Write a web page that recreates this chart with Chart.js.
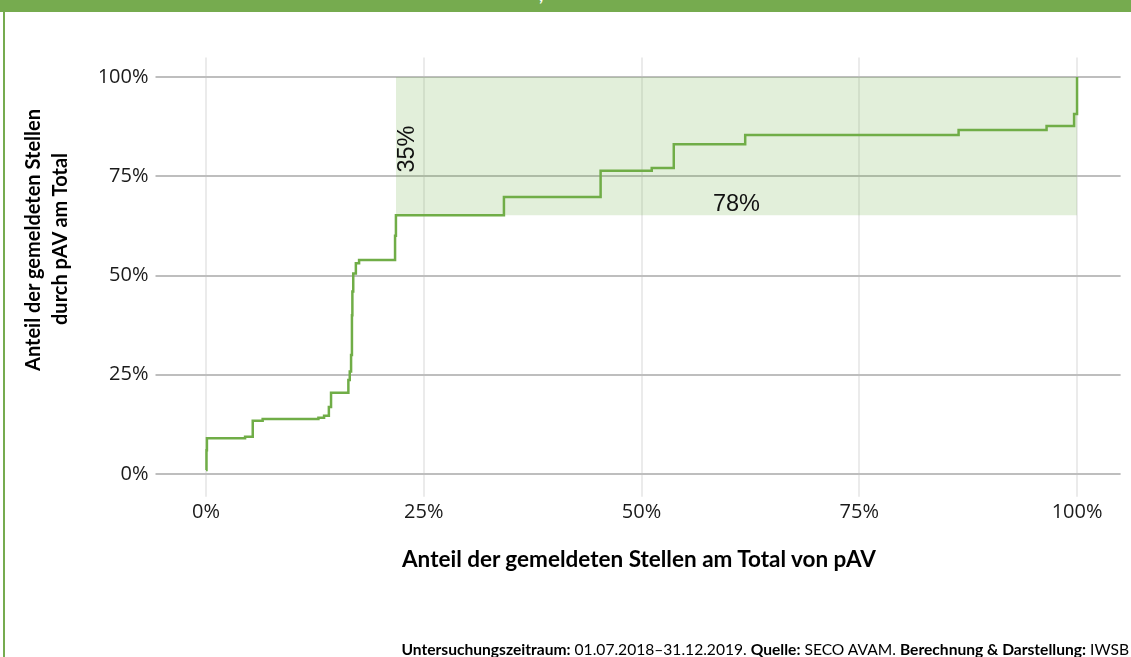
<!DOCTYPE html>
<html>
<head>
<meta charset="utf-8">
<title>Anteil der gemeldeten Stellen durch pAV</title>
<script src="https://cdn.jsdelivr.net/npm/chart.js"></script>
<style>
  body { margin: 0; width: 1131px; height: 657px; overflow: hidden; background: #fff; position: relative; font-family: Lato, sans-serif; }
  #balken { position: absolute; left: 0; top: 0; width: 1131px; height: 12px; background: #76ab4f; overflow: hidden; }
  #balken span { position: absolute; left: 539px; top: -15px; font-size: 18px; line-height: 18px; color: #fff; font-weight: bold; }
  #rand { position: absolute; left: 3px; top: 0; width: 2px; height: 657px; background: #76ab4f; }
  #wrap { position: absolute; left: 0; top: 0; width: 1131px; height: 657px; }
  .titel { position: absolute; font-weight: bold; font-size: 20px; color: #000; white-space: nowrap; transform: translate(-50%, -50%); }
  .titel.rot { transform: translate(-50%, -50%) rotate(-90deg); }
  #fuss { position: absolute; right: 2px; top: 640px; font-size: 15.6px; color: #000; white-space: nowrap; }
</style>
</head>
<body>
<div id="wrap"><canvas id="kurve"></canvas></div>
<div id="balken"><span>,</span></div>
<div id="rand"></div>
<div class="titel rot" style="left:32px; top:240px;">Anteil der gemeldeten Stellen</div>
<div class="titel rot" style="left:59px; top:239px;">durch pAV am Total</div>
<div class="titel" style="left:639px; top:558px; font-size:22.5px;">Anteil der gemeldeten Stellen am Total von pAV</div>
<div id="fuss"><b>Untersuchungszeitraum:</b> 01.07.2018–31.12.2019. <b>Quelle:</b> SECO AVAM. <b>Berechnung &amp; Darstellung:</b> IWSB</div>

<script>
// Stufenkurve: Anteil am Total von pAV (x) gegen kumulierten Anteil (y)
const stufenX = [0, 0.0005, 0.001, 0.0448, 0.0536, 0.065, 0.129, 0.1355, 0.141, 0.1435, 0.1634, 0.165,
  0.1665, 0.1675, 0.168, 0.169, 0.172, 0.1757, 0.217, 0.218, 0.342, 0.453, 0.5117, 0.537, 0.619, 0.864,
  0.965, 0.9966, 1.0];
const stufenY = [0.01, 0.06, 0.09, 0.094, 0.134, 0.1385, 0.142, 0.147, 0.169, 0.205, 0.237, 0.258,
  0.30, 0.40, 0.46, 0.505, 0.531, 0.539, 0.60, 0.652, 0.698, 0.764, 0.771, 0.831, 0.854, 0.8665,
  0.8766, 0.907, 1.0];

// schattierte Fläche
const flaecheX = [0.218, 1.0];
const flaecheOben = 1.0;
const flaecheUnten = 0.652;

// Beschriftungen in der Fläche
const notizTexte = ['35%', '78%'];
const notizX = [0.2308, 0.609];
const notizY = [0.8186, 0.679];
const notizDrehung = [-90, 0];

const tickWerte = [0, 0.25, 0.5, 0.75, 1];
const tickLabels = ['0%', '25%', '50%', '75%', '100%'];

const gruen = '#70ad47';

const notizPlugin = {
  id: 'notizen',
  afterDatasetsDraw(chart) {
    const ctx = chart.ctx;
    const sx = chart.scales.x, sy = chart.scales.y;
    ctx.save();
    ctx.font = '23.5px "Liberation Sans", Arial, sans-serif';
    ctx.fillStyle = '#111';
    ctx.textAlign = 'center';
    ctx.textBaseline = 'middle';
    notizTexte.forEach((t, i) => {
      ctx.save();
      ctx.translate(sx.getPixelForValue(notizX[i]), sy.getPixelForValue(notizY[i]));
      ctx.rotate(notizDrehung[i] * Math.PI / 180);
      ctx.fillText(t, 0, 0);
      ctx.restore();
    });
    ctx.restore();
  }
};

const setzeTicks = axis => { axis.ticks = tickWerte.map(v => ({ value: v })); };

new Chart(document.getElementById('kurve'), {
  type: 'line',
  data: {
    datasets: [
      {
        data: stufenX.map((x, i) => ({ x: x, y: stufenY[i] })),
        borderColor: gruen,
        borderWidth: 2.5,
        pointRadius: 0,
        stepped: 'before',
        fill: false
      },
      {
        data: flaecheX.map(x => ({ x: x, y: flaecheOben })),
        borderWidth: 0,
        borderColor: 'rgba(0,0,0,0)',
        backgroundColor: 'rgba(112,173,71,0.2)',
        pointRadius: 0,
        fill: { value: flaecheUnten }
      }
    ]
  },
  options: {
    responsive: true,
    maintainAspectRatio: false,
    animation: false,
    layout: { padding: { left: 100, top: 57.4, right: 10.4, bottom: 100 } },
    plugins: { legend: { display: false }, tooltip: { enabled: false } },
    scales: {
      x: {
        type: 'linear',
        min: -0.05,
        max: 1.05,
        afterBuildTicks: setzeTicks,
        afterFit: s => { s.height = 67.3; },
        grid: { color: '#ebebeb', lineWidth: 2, tickLength: 7 },
        border: { display: false },
        ticks: {
          padding: 4,
          color: '#1a1a1a',
          font: { family: '"Open Sans", sans-serif', size: 20 },
          callback: (v, i) => tickLabels[i]
        }
      },
      y: {
        type: 'linear',
        min: -0.0395,
        max: 1.0495,
        afterBuildTicks: setzeTicks,
        afterFit: s => { s.width = 62.5; },
        grid: { color: '#bebebe', lineWidth: 2, tickLength: 7 },
        border: { display: false },
        ticks: {
          padding: 7,
          color: '#1a1a1a',
          font: { family: '"Open Sans", sans-serif', size: 20 },
          callback: (v, i) => tickLabels[i]
        }
      }
    }
  },
  plugins: [notizPlugin]
});
</script>
</body>
</html>
